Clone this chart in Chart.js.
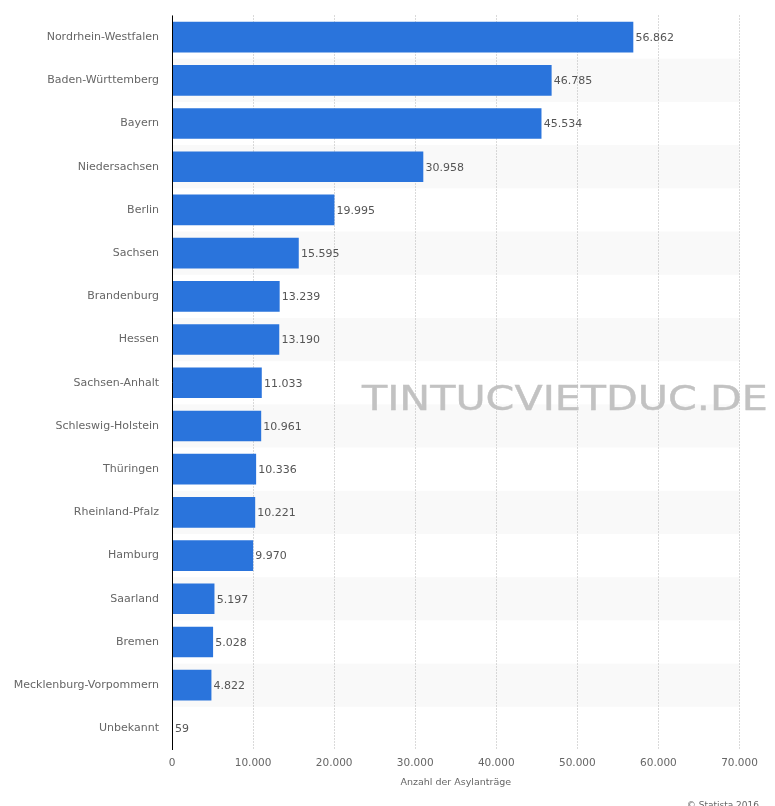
<!DOCTYPE html>
<html><head><meta charset="utf-8">
<style>
html,body{margin:0;padding:0;background:#fff;overflow:hidden;width:775px;height:806px}
#w{position:relative;width:775px;height:806px}
#wm{position:absolute;left:362px;top:379px;font:400 33px "DejaVu Sans";color:#c2c2c2;-webkit-text-stroke:0.4px #c2c2c2;white-space:nowrap;transform-origin:0 0;transform:scaleX(1.25)}
#cp{position:absolute;right:16px;top:800px;font:9px "DejaVu Sans";color:#666;white-space:nowrap}
</style>
<script src="https://cdn.jsdelivr.net/npm/chart.js@4"></script>
</head><body><div id="w"><canvas id="c" width="775" height="806" style="display:block"></canvas>
<div id="wm">TINTUCVIETDUC.DE</div>
<div id="cp">© Statista 2016</div></div>
<script>
const categories=["Nordrhein-Westfalen","Baden-Württemberg","Bayern","Niedersachsen","Berlin","Sachsen","Brandenburg","Hessen","Sachsen-Anhalt","Schleswig-Holstein","Thüringen","Rheinland-Pfalz","Hamburg","Saarland","Bremen","Mecklenburg-Vorpommern","Unbekannt"];
const values=[56862,46785,45534,30958,19995,15595,13239,13190,11033,10961,10336,10221,9970,5197,5028,4822,59];
const valueTicks=[0,10000,20000,30000,40000,50000,60000,70000];
const axisTitle="Anzahl der Asylanträge";
const fmt=v=>String(v).replace(/\B(?=(\d{3})+$)/g,".");
const FONT='"DejaVu Sans"';
const bands={id:'bands',beforeDraw(ch){const{ctx,chartArea:a,scales:{y}}=ch;ctx.save();ctx.fillStyle='#f9f9f9';
 const h=y.getPixelForValue(1)-y.getPixelForValue(0);
 categories.forEach((c,i)=>{if(i%2){ctx.fillRect(a.left,y.getPixelForValue(i)-h/2,a.right-a.left,h);}});ctx.restore();}};
const labels={id:'labels',afterDatasetsDraw(ch){const{ctx}=ch;ctx.save();ctx.font='11px '+FONT;ctx.fillStyle='#555';ctx.textBaseline='middle';
 ch.getDatasetMeta(0).data.forEach((b,i)=>{ctx.fillText(fmt(values[i]),b.x+2.5,b.y+1);});ctx.restore();}};
const axisLine={id:'axisLine',afterDraw(ch){const{ctx,chartArea:a}=ch;ctx.save();ctx.strokeStyle='#000';ctx.lineWidth=1;ctx.beginPath();ctx.moveTo(a.left+.5,a.top);ctx.lineTo(a.left+.5,a.bottom);ctx.stroke();ctx.restore();}};
new Chart(document.getElementById('c'),{type:'bar',
 data:{labels:categories,datasets:[{data:values,backgroundColor:'#2a74dc',barThickness:30,borderWidth:0}]},
 plugins:[bands,labels,axisLine],
 options:{indexAxis:'y',responsive:false,animation:false,
  layout:{padding:{left:0,right:35.5,top:15.5,bottom:0}},
  plugins:{legend:{display:false},tooltip:{enabled:false},title:{display:false}},
  scales:{
   x:{type:'linear',min:0,max:70000,
    afterFit(s){s.height=56;},
    afterBuildTicks(s){s.ticks=valueTicks.map(v=>({value:v}));},
    grid:{color:'#b4b4b4',lineWidth:1,drawTicks:false,tickLength:0},
    border:{display:false,dash:[1,2]},
    ticks:{color:'#666',font:{family:FONT,size:10.5},padding:7,maxRotation:0,callback:v=>fmt(v)},
    title:{display:true,text:axisTitle,color:'#666',font:{family:FONT,size:9.5},padding:{top:6,bottom:18}}},
   y:{afterFit(s){s.width=172;},
    grid:{display:false},border:{display:false},
    ticks:{color:'#666',font:{family:FONT,size:11},padding:5,autoSkip:false}}
  }}});
</script></body></html>
